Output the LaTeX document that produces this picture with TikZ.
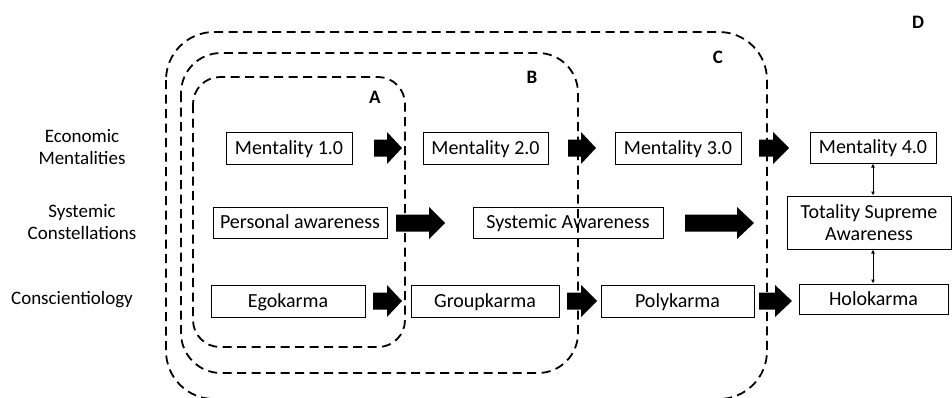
\documentclass[tikz,border=0pt]{standalone}
\usepackage{fontspec}
\setmainfont{Carlito}
\usetikzlibrary{arrows.meta}
\tikzset{
  box/.style={draw, line width=1pt, inner sep=0pt, font=\fontsize{20}{22}\selectfont},
  one/.style={text height=12.5pt, text depth=0pt},
  lbl/.style={align=center, font=\fontsize{19}{22}\selectfont},
  loopline/.style={line width=1.8pt, dash pattern=on 9pt off 5.5pt},
  tag/.style={font=\fontsize{19}{21}\selectfont\bfseries},
  fat/.style={fill=black},
  dbl/.style={{Latex[length=4pt,width=4pt]}-{Latex[length=4pt,width=4pt]}, line width=0.9pt}
}
% fat arrow: x start, x head start, x end, y centre
\newcommand\fatarr[4]{\fill[fat] (#1,#4-8.5) -- (#2,#4-8.5) -- (#2,#4-16) -- (#3,#4) -- (#2,#4+16) -- (#2,#4+8.5) -- (#1,#4+8.5) -- cycle;}
\begin{document}
\begin{tikzpicture}[x=1pt,y=-1pt]
\useasboundingbox (0,0) rectangle (952,397);
% loops
\draw[loopline, rounded corners=48] (166,32) rectangle (767,399);
\draw[loopline, rounded corners=40] (181,53) rectangle (578,373);
\draw[loopline, rounded corners=27] (193,77) rectangle (405,347);
% tags
\node[tag] (tA) at (375,97) {A};
\node[tag] (tB) at (532,77) {B};
\node[tag] (tC) at (718,57) {C};
\node[tag] (tD) at (918,22) {D};
% left labels
\node[lbl] (l1) at (82,147) {Economic\\Mentalities};
\node[lbl] (l2) at (82,222) {Systemic\\Constellations};
\node[lbl] (l3) at (72,300) {Conscientiology};
% boxes row 1
\node[box, one, minimum width=126pt, minimum height=32pt] (m1) at (289,148) {Mentality 1.0};
\node[box, one, minimum width=125pt, minimum height=32pt] (m2) at (485.5,148) {Mentality 2.0};
\node[box, one, minimum width=126pt, minimum height=32pt] (m3) at (678,148) {Mentality 3.0};
\node[box, one, minimum width=126pt, minimum height=31pt] (m4) at (873,147.5) {Mentality 4.0};
% row 2
\node[box, one, minimum width=174pt, minimum height=31pt] (p1) at (300,222.5) {Personal awareness};
\node[box, one, minimum width=190pt, minimum height=31pt] (p2) at (568,222.5) {Systemic Awareness};
\node[box, minimum width=164pt, minimum height=53pt, align=center] (p3) at (869,222.5) {Totality Supreme\\Awareness};
% row 3
\node[box, one, minimum width=154pt, minimum height=32pt] (k1) at (288,301) {Egokarma};
\node[box, one, minimum width=148pt, minimum height=32pt] (k2) at (485,301) {Groupkarma};
\node[box, one, minimum width=153pt, minimum height=32pt] (k3) at (677.5,301) {Polykarma};
\node[box, one, minimum width=149pt, minimum height=30pt] (k4) at (873.5,299) {Holokarma};
% fat arrows
\fatarr{374}{387}{402}{148}
\fatarr{568}{581}{596}{148}
\fatarr{759}{773}{789}{148}
\fatarr{396}{429}{445}{223}
\fatarr{685}{737}{754}{223}
\fatarr{373}{387}{402}{301}
\fatarr{567}{581}{597}{301}
\fatarr{759}{775}{792}{301}
% double arrows
\draw[dbl] (m4.south -| 873,0) -- (p3.north -| 873,0);
\draw[dbl] (p3.south -| 873,0) -- (k4.north -| 873,0);
\end{tikzpicture}
\end{document}
